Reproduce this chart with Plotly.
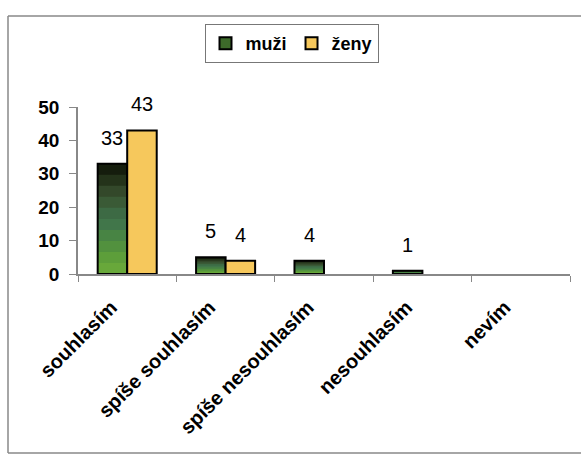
import plotly.graph_objects as go

categories = ["souhlasím", "spíše souhlasím", "spíše nesouhlasím", "nesouhlasím", "nevím"]
muzi = [33, 5, 4, 1, 0]
zeny = [43, 4, 0, 0, 0]

FONT = "Liberation Sans, Arial, sans-serif"
# dark top -> bright green bottom
GREEN_SHADES = ["#151d0d", "#24331a", "#33482a", "#3a5a36", "#3d6a44",
                "#41764a", "#488444", "#52913e", "#5d9e3a", "#68a83a"]
YELLOW = "#f6c85c"


def nz(vals):
    return [v if v else None for v in vals]


fig = go.Figure()

fig.add_trace(go.Bar(
    x=categories, y=nz(muzi), name="muži", offsetgroup="m",
    marker=dict(color=GREEN_SHADES[0], line=dict(width=0)), hoverinfo="skip",
    showlegend=False,
))
n = len(GREEN_SHADES)
for k in range(1, n):
    frac = (n - k) / n
    fig.add_trace(go.Bar(
        x=categories, y=nz([v * frac for v in muzi]), offsetgroup="m",
        showlegend=False, hoverinfo="skip",
        marker=dict(color=GREEN_SHADES[k], line=dict(width=0)),
    ))
# black outline drawn over the shaded muži bars
fig.add_trace(go.Bar(
    x=categories, y=nz(muzi), name="muži", offsetgroup="m",
    marker=dict(color="rgba(0,0,0,0)", line=dict(color="black", width=2)),
    showlegend=False,
))
fig.add_trace(go.Bar(
    x=categories, y=nz(zeny), name="ženy", offsetgroup="z",
    marker=dict(color=YELLOW, line=dict(color="black", width=2)),
))
# legend swatch for muži
fig.add_trace(go.Bar(
    x=[categories[0]], y=[None], name="muži", offsetgroup="m",
    marker=dict(color="#3d6a2a", line=dict(color="black", width=2)),
    legendrank=1,
))

# value labels above bars
annotations = []
for vals, dx in ((muzi, -15), (zeny, 15)):
    for c, v in zip(categories, vals):
        if v:
            annotations.append(dict(
                x=c, y=v, xref="x", yref="y", text=str(v), showarrow=False,
                xshift=dx, yshift=13, yanchor="bottom",
                font=dict(family=FONT, size=20, color="black"),
            ))

L, R, T, B = 78, 11, 107, 185
W, H = 581, 459
pw, ph = W - L - R, H - T - B


def px_x(x):
    return (x - L) / pw


def px_y(y):
    return (H - B - y) / ph


# chart frame: left, top and bottom edges as separate lines
frame_style = dict(type="line", xref="paper", yref="paper",
                   line=dict(color="#888", width=1.5), layer="below")
frame = [
    dict(frame_style, x0=px_x(8), x1=px_x(700), y0=px_y(16), y1=px_y(16)),
    dict(frame_style, x0=px_x(8), x1=px_x(8), y0=px_y(16), y1=px_y(453)),
    dict(frame_style, x0=px_x(8), x1=px_x(700), y0=px_y(453), y1=px_y(453)),
]

fig.update_layout(
    width=W, height=H,
    margin=dict(l=L, r=R, t=T, b=B),
    paper_bgcolor="white", plot_bgcolor="white",
    barmode="group", bargap=0.40, bargroupgap=0,
    font=dict(family=FONT, color="black"),
    annotations=annotations,
    legend=dict(
        orientation="h", x=px_x(291.5), xanchor="center",
        y=px_y(24), yanchor="top",
        bordercolor="#777", borderwidth=1,
        font=dict(family=FONT, size=18, color="black", weight="bold"),
        itemwidth=30, traceorder="normal",
    ),
    xaxis=dict(
        tickangle=-45, showline=True, linecolor="#888", linewidth=1.5,
        ticks="outside", tickson="boundaries", ticklen=6, tickcolor="#888",
        tickfont=dict(family=FONT, size=20, color="black", weight="bold"),
        ticklabelstandoff=12, ticklabelshift=-16,
        showgrid=False,
    ),
    yaxis=dict(
        range=[0, 50], dtick=10, showline=True, linecolor="#888", linewidth=1.5,
        ticks="outside", ticklen=7, tickcolor="#888", showgrid=False,
        zeroline=False, ticklabelstandoff=6,
        tickfont=dict(family=FONT, size=19, color="black", weight="bold"),
    ),
    shapes=frame,
)

fig.write_html("out.html")
